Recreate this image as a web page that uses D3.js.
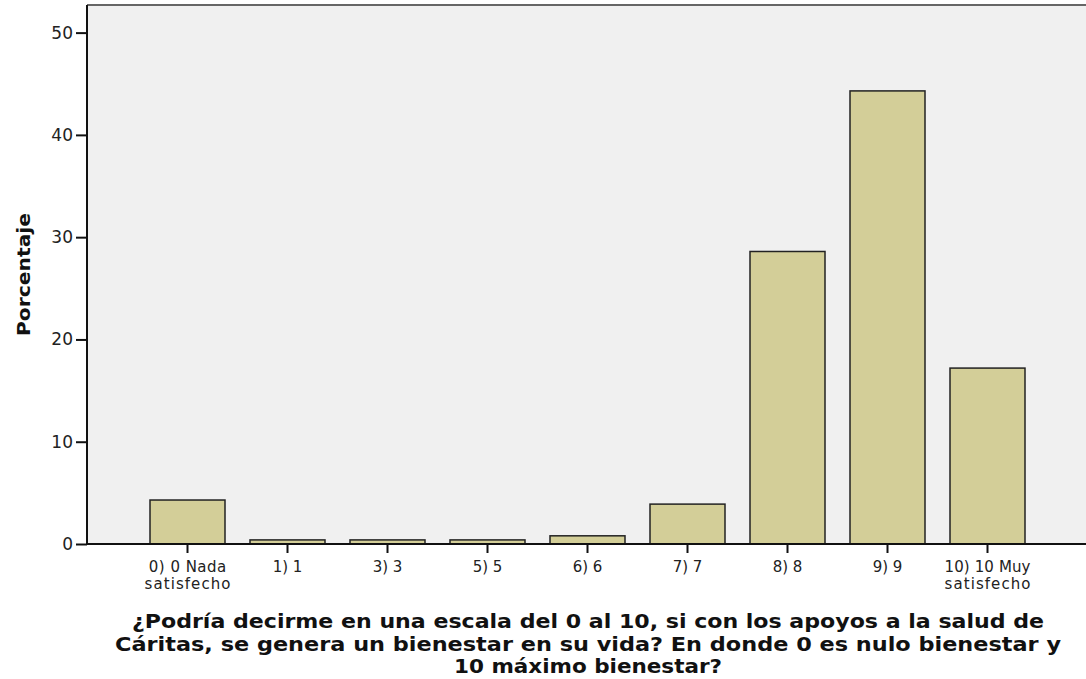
<!DOCTYPE html>
<html>
<head>
<meta charset="utf-8">
<script src="https://cdn.jsdelivr.net/npm/d3@7"></script>
<style>
  body { margin: 0; background: #fff; overflow: hidden; }
  svg text { font-family: "DejaVu Sans", Verdana, sans-serif; }
</style>
</head>
<body>
<svg width="1086" height="679"></svg>
<script>
var categories = ["0) 0 Nada|satisfecho", "1) 1", "3) 3", "5) 5", "6) 6", "7) 7", "8) 8", "9) 9", "10) 10 Muy|satisfecho"];
var values = [4.3, 0.4, 0.4, 0.4, 0.8, 3.9, 28.6, 44.3, 17.2];
var yTicks = [0, 10, 20, 30, 40, 50];
var titleLines = ["¿Podría decirme en una escala del 0 al 10, si con los apoyos a la salud de",
                  "Cáritas, se genera un bienestar en su vida? En donde 0 es nulo bienestar y",
                  "10 máximo bienestar?"];

var svg = d3.select("svg"),
    plotLeft = 87, plotRight = 1086, plotTop = 5, plotBottom = 544;

var x = d3.scaleBand()
    .domain(categories)
    .range([137.5, 1037.5])
    .paddingInner(0.25)
    .paddingOuter(0.125);

var y = d3.scaleLinear()
    .domain([0, 52.7])
    .range([plotBottom, plotTop]);

// plot background
svg.append("rect")
    .attr("x", plotLeft).attr("y", plotTop)
    .attr("width", plotRight - plotLeft + 2).attr("height", plotBottom - plotTop)
    .attr("fill", "#f0f0f0");
svg.append("line")
    .attr("x1", plotLeft).attr("x2", plotRight)
    .attr("y1", plotTop).attr("y2", plotTop)
    .attr("stroke", "#666").attr("stroke-width", 2);

// bars
svg.append("g").selectAll("rect")
    .data(values)
    .enter().append("rect")
    .attr("x", function(d, i) { return x(categories[i]); })
    .attr("y", function(d) { return y(d); })
    .attr("width", x.bandwidth())
    .attr("height", function(d) { return plotBottom - y(d); })
    .attr("fill", "#d3ce98")
    .attr("stroke", "#222")
    .attr("stroke-width", 1.5);

// y axis
var yAxis = svg.append("g")
    .attr("transform", "translate(" + plotLeft + ",0)")
    .call(d3.axisLeft(y).tickValues(yTicks).tickSize(11).tickPadding(3));
yAxis.select(".domain").attr("d", "M0," + plotTop + "V" + plotBottom)
    .attr("stroke", "#111").attr("stroke-width", 2);
yAxis.selectAll(".tick line").attr("stroke", "#111").attr("stroke-width", 2);
yAxis.selectAll(".tick text").attr("font-size", 17).attr("fill", "#222")
    .attr("font-family", "DejaVu Sans, Verdana, sans-serif");

// x axis
var xAxis = svg.append("g")
    .attr("transform", "translate(0," + plotBottom + ")")
    .call(d3.axisBottom(x).tickSize(9).tickFormat(""));
xAxis.select(".domain").attr("d", "M" + plotLeft + ",0H" + plotRight).attr("stroke", "#111").attr("stroke-width", 2);
xAxis.selectAll(".tick line").attr("stroke", "#111").attr("stroke-width", 2);
xAxis.selectAll(".tick").each(function(d) {
    var parts = d.split("|");
    var t = d3.select(this).append("text")
        .attr("text-anchor", "middle")
        .attr("font-size", 15)
        .attr("fill", "#222")
        .attr("font-family", "DejaVu Sans, Verdana, sans-serif");
    parts.forEach(function(p, i) {
        t.append("tspan").attr("x", 0).attr("y", 28 + i * 17)
            .attr("textLength", p.length > 6 ? p.length * 8.6 : null)
            .text(p);
    });
});

// y label
svg.append("text")
    .attr("transform", "translate(30," + ((plotTop + plotBottom) / 2) + ") rotate(-90)")
    .attr("text-anchor", "middle")
    .attr("font-size", 18)
    .attr("font-weight", "bold")
    .attr("fill", "#111")
    .attr("textLength", 123)
    .attr("lengthAdjust", "spacingAndGlyphs")
    .text("Porcentaje");

// x title
svg.append("g").selectAll("text")
    .data(titleLines)
    .enter().append("text")
    .attr("x", 588)
    .attr("y", function(d, i) { return 628 + i * 22.5; })
    .attr("text-anchor", "middle")
    .attr("font-size", 19.5)
    .attr("font-weight", "bold")
    .attr("fill", "#111")
    .attr("textLength", function(d, i) { return [912, 946, 268][i]; })
    .attr("lengthAdjust", "spacingAndGlyphs")
    .text(function(d) { return d; });
</script>
</body>
</html>
